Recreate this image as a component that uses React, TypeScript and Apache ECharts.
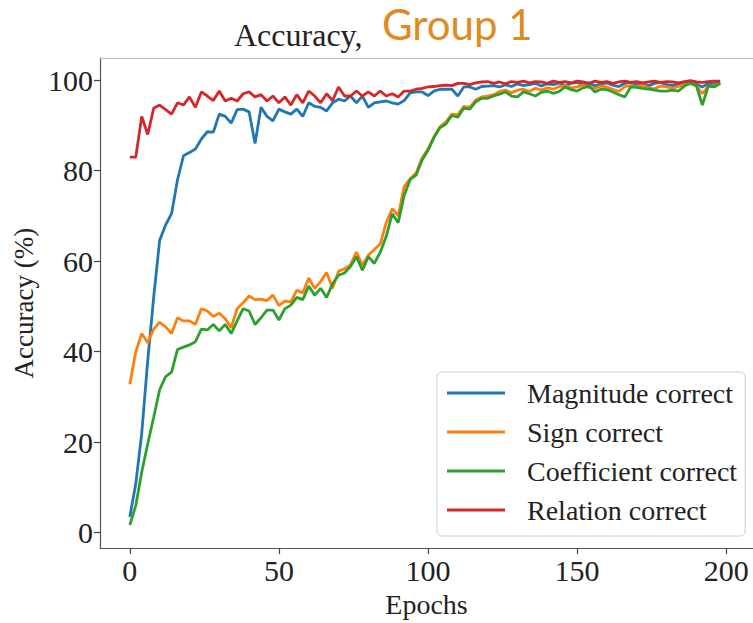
import React, { useEffect, useRef } from "react";
import * as echarts from "echarts";

// x positions (epochs), sampled every 2 epochs
const epochs: number[] = Array.from({ length: 100 }, (_, i) => i * 2);

const magnitude: number[] = [
  3.5, 10.8, 22, 38, 52, 64.6, 68, 70.5, 78, 83.3, 84, 84.8, 87, 88.6, 88.5, 92.5, 92, 90.5, 93.5, 93.6,
  93, 86, 94, 92, 91, 93.6, 93, 92.5, 93.6, 92, 95, 94.2, 94, 93.2, 95, 95.8, 95.4, 96.5, 95, 96.5,
  94, 95, 95.2, 95.4, 95, 94.7, 95.5, 97.2, 97.4, 97.4, 96.6, 97.6, 98, 98, 98, 96.5, 98.5, 98.5, 98, 98.6,
  98.7, 98.8, 98.5, 99, 98.6, 99.2, 98.8, 99, 99.3, 98.7, 99.2, 99, 99.4, 98.8, 99.3, 99.5, 99, 99.4, 98.7, 99.2,
  99.4, 98.9, 98.6, 99.3, 99.5, 99, 99.2, 98.8, 99.3, 99.5, 99, 98.8, 99.2, 99.4, 99.6, 99.1, 98.5, 99.3, 99.2, 99.6,
];

const sign: number[] = [
  32.8, 40, 44, 42, 45, 46.5, 45.5, 44, 47.5, 46.8, 46.8, 46, 49.5, 49, 47.8, 48.5, 47.3, 45.3, 49.5, 50.8,
  52.3, 51.5, 51.6, 51.3, 52.5, 50.2, 51.2, 51, 53.6, 53, 56.3, 54, 55.5, 57.5, 54, 57.8, 58.3, 59.2, 62, 59.1,
  61.3, 62.6, 63.8, 68.5, 71.6, 70, 76.5, 78.2, 79.5, 82.8, 84.8, 87.5, 89.7, 90.8, 92.5, 92.4, 94.2, 94, 95.6, 96.3,
  96.5, 96.8, 97.5, 97.8, 97.2, 97.8, 98, 97.5, 98.2, 97.8, 98.3, 98, 98.6, 98.8, 98.3, 98.5, 98.9, 98.4, 98.2, 98.7,
  98.5, 98, 97.5, 98.6, 98.8, 98.5, 98.9, 98.3, 98.1, 98.7, 98.5, 98.2, 98.6, 99, 99.3, 98.8, 97, 98.7, 98.8, 99.3,
];

const coefficient: number[] = [
  1.7, 6, 13.4, 19.6, 25.5, 31.6, 34.5, 35.5, 40.5, 41, 41.5, 42.2, 45, 44.8, 46, 44.6, 46, 44, 46.8, 49.5,
  49, 46, 47.5, 49.2, 49.2, 47, 49.5, 50.3, 52, 51.5, 54.5, 52.5, 54, 52, 55, 56.9, 57.4, 58.8, 61, 58,
  61, 59.5, 62, 65.5, 70.5, 68.5, 74.5, 78, 79, 82.3, 84.5, 87.3, 89.5, 90.3, 92.2, 91.8, 93.8, 93.6, 95.2, 96,
  96, 96.5, 96.9, 97.4, 96.5, 96.3, 97.4, 97, 96.5, 97.3, 97.6, 97.1, 97.5, 98.5, 97.9, 97.6, 98.3, 98.7, 97.4, 98,
  97.9, 97.4, 96.8, 96.3, 98.5, 98.4, 98.2, 98, 97.8, 97.6, 97.6, 97.8, 97.6, 98.7, 99.3, 98.8, 94.5, 98.7, 98.5, 99.3,
];

const relation: number[] = [
  83, 83, 92, 88, 93.8, 94.5, 93.5, 92.5, 95, 94.5, 96.3, 94, 97.4, 96.5, 95.5, 97.6, 95.4, 96, 95.4, 97,
  97.4, 96.3, 96.8, 95.4, 96.5, 95, 96.3, 94.5, 96.8, 95, 97.6, 96.5, 95, 97, 95.5, 98.5, 96.5, 96.5, 97.6, 96.5,
  97.4, 96.5, 97.6, 96.5, 97, 96.3, 97.6, 97.6, 98, 98.2, 98.5, 98.6, 98.8, 98.9, 98.8, 99.3, 99.3, 99, 99.4, 99.6,
  99.7, 99.3, 99.6, 99.2, 99.7, 99.5, 99.8, 99.4, 99.7, 99.6, 99.3, 99.8, 99.5, 99.7, 99.4, 99.8, 99.6, 99.3, 99.8, 99.5,
  99.7, 99.3, 99.6, 99.8, 99.5, 99.7, 99.4, 99.6, 99.8, 99.5, 99.7, 99.6, 99.4, 99.7, 99.9, 99.6, 99.5, 99.7, 99.8, 99.8,
];

const seriesNames = ["Magnitude correct", "Sign correct", "Coefficient correct", "Relation correct"];
const seriesColors = ["#1f77b4", "#ff7f0e", "#2ca02c", "#d62728"];
const xTicks = [0, 50, 100, 150, 200];
const yTicks = [0, 20, 40, 60, 80, 100];

const SERIF = "Liberation Serif";

export default function App() {
  const ref = useRef<HTMLDivElement>(null);
  useEffect(() => {
    if (!ref.current) return;
    const chart = echarts.init(ref.current, undefined, { renderer: "svg" });
    const all = [magnitude, sign, coefficient, relation];
    chart.setOption({
      animation: false,
      backgroundColor: "#ffffff",
      grid: { left: 100, top: 58, width: 659, height: 494, containLabel: false },
      xAxis: [
        {
          type: "value",
          min: -10,
          max: 209,
          name: "Epochs",
          nameLocation: "middle",
          nameGap: 41,
          nameTextStyle: { fontFamily: SERIF, fontSize: 28, color: "#222" },
          axisLine: { show: true, onZero: false, lineStyle: { color: "#555", width: 1.2 } },
          axisTick: { show: true, length: 6, customValues: xTicks, lineStyle: { color: "#444", width: 1.2 } },
          axisLabel: { customValues: xTicks, fontFamily: SERIF, fontSize: 30, color: "#222", margin: 7 },
          splitLine: { show: false },
        },
        {
          type: "value",
          position: "top",
          min: -10,
          max: 209,
          axisLine: { show: true, onZero: false, lineStyle: { color: "#bbb", width: 1.2 } },
          axisTick: { show: false },
          axisLabel: { show: false },
          splitLine: { show: false },
        },
      ],
      yAxis: {
        type: "value",
        min: -3.4,
        max: 104.9,
        name: "Accuracy (%)",
        nameLocation: "middle",
        nameGap: 60,
        nameTextStyle: { fontFamily: SERIF, fontSize: 27, color: "#222" },
        axisLine: { show: true, onZero: false, lineStyle: { color: "#555", width: 1.2 } },
        axisTick: { show: true, length: 6, customValues: yTicks, lineStyle: { color: "#444", width: 1.2 } },
        axisLabel: { customValues: yTicks, fontFamily: SERIF, fontSize: 30, color: "#222", margin: 7 },
        splitLine: { show: false },
      },
      legend: {
        orient: "vertical",
        left: 437,
        top: 372,
        data: seriesNames,
        icon: "rect",
        itemWidth: 58,
        itemHeight: 3,
        itemGap: 11,
        padding: [7, 8, 12, 10],
        backgroundColor: "#fff",
        borderColor: "#ccc",
        borderWidth: 1,
        borderRadius: 5,
        textStyle: { fontFamily: SERIF, fontSize: 28, color: "#222", padding: [0, 0, 0, 17] },
      },
      graphic: [
        {
          type: "text",
          left: 234,
          top: 19,
          style: { text: "Accuracy,", font: `32px ${SERIF}`, fill: "#222" },
        },
        {
          type: "text",
          left: 382,
          top: 3,
          style: { text: "Group 1", font: "42px Lato", fill: "#e08a1f" },
        },
      ],
      series: seriesNames.map((name, k) => ({
        name,
        type: "line",
        xAxisIndex: 0,
        data: epochs.map((e, i) => [e, all[k][i]]),
        showSymbol: false,
        symbol: "none",
        color: seriesColors[k],
        lineStyle: { width: 2.8, color: seriesColors[k] },
        z: 2 + k,
      })),
    });
    return () => chart.dispose();
  }, []);
  return <div ref={ref} style={{ position: "fixed", left: 0, top: 0, width: 753, height: 623 }} />;
}
